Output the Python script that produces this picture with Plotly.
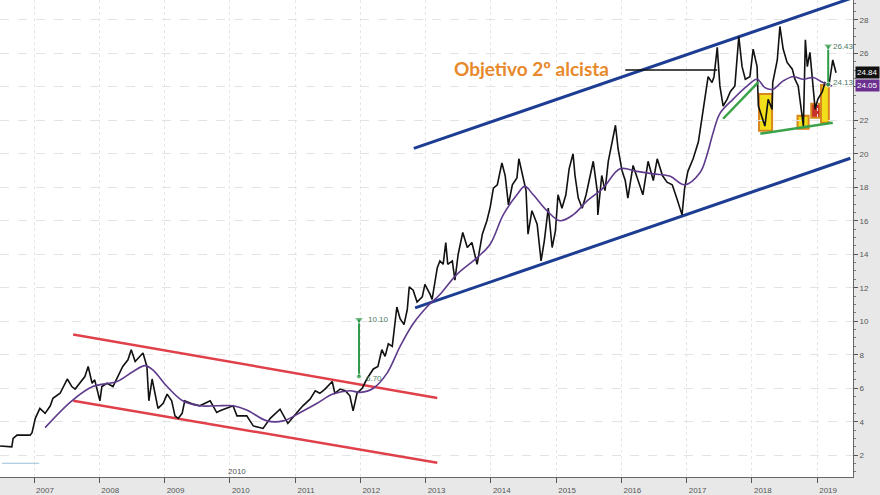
import plotly.graph_objects as go

# ---------------- data (decimal years, price) ----------------
price_t = [2006.48, 2006.66, 2006.68, 2006.74, 2006.94, 2006.97, 2007.02, 2007.09, 2007.17, 2007.25,
           2007.29, 2007.40, 2007.51, 2007.58, 2007.63, 2007.70, 2007.78, 2007.83, 2007.89, 2007.93,
           2008.01, 2008.04, 2008.12, 2008.21, 2008.29, 2008.36, 2008.44, 2008.49, 2008.55, 2008.62,
           2008.67, 2008.73, 2008.76, 2008.81, 2008.85, 2008.90, 2008.98, 2009.04, 2009.11, 2009.16,
           2009.21, 2009.27, 2009.31, 2009.44, 2009.54, 2009.70, 2009.80, 2009.85, 2010.05, 2010.11,
           2010.26, 2010.36, 2010.51, 2010.62, 2010.77, 2010.89, 2011.03, 2011.12, 2011.23, 2011.31,
           2011.38, 2011.46, 2011.57, 2011.61, 2011.69, 2011.77, 2011.84, 2011.89, 2011.95, 2012.03,
           2012.10, 2012.20, 2012.27, 2012.33, 2012.38, 2012.43, 2012.49, 2012.53, 2012.56, 2012.61,
           2012.67, 2012.72, 2012.75, 2012.81, 2012.87, 2012.95, 2012.99, 2013.07, 2013.10, 2013.18,
           2013.22, 2013.27, 2013.31, 2013.34, 2013.41, 2013.45, 2013.50, 2013.57, 2013.64, 2013.71,
           2013.79, 2013.87, 2013.94, 2013.99, 2014.04, 2014.10, 2014.17, 2014.22, 2014.27, 2014.33,
           2014.40, 2014.43, 2014.49, 2014.54, 2014.57, 2014.63, 2014.71, 2014.77, 2014.82, 2014.88,
           2014.94, 2014.99, 2015.03, 2015.09, 2015.15, 2015.20, 2015.26, 2015.29, 2015.34, 2015.40,
           2015.46, 2015.52, 2015.57, 2015.63, 2015.64, 2015.70, 2015.75, 2015.80, 2015.86, 2015.91,
           2015.95, 2016.01, 2016.06, 2016.10, 2016.18, 2016.26, 2016.33, 2016.41, 2016.49, 2016.55,
           2016.63, 2016.70, 2016.78, 2016.85, 2016.93, 2016.97, 2017.02, 2017.10, 2017.18, 2017.24,
           2017.28, 2017.33, 2017.39, 2017.42, 2017.47, 2017.51, 2017.56, 2017.62, 2017.67, 2017.74,
           2017.80, 2017.85, 2017.90, 2017.97, 2018.02, 2018.08, 2018.10, 2018.16, 2018.20, 2018.25,
           2018.31, 2018.32, 2018.39, 2018.43, 2018.48, 2018.54, 2018.62, 2018.66, 2018.71, 2018.77,
           2018.79, 2018.82, 2018.85, 2018.89, 2018.94, 2018.97, 2019.01, 2019.08, 2019.12, 2019.18,
           2019.24, 2019.29]
price_v = [2.55, 2.50, 3.00, 3.20, 3.20, 3.35, 4.20, 4.80, 4.50, 4.95,
           5.40, 5.70, 6.55, 6.10, 5.95, 6.30, 6.70, 7.30, 6.30, 6.50,
           5.25, 6.10, 6.30, 6.10, 6.70, 7.30, 7.70, 8.30, 7.60, 7.90,
           8.10, 7.30, 5.25, 6.55, 5.70, 4.80, 5.10, 5.65, 5.25, 4.35,
           4.20, 4.50, 5.25, 5.05, 4.95, 5.25, 4.55, 4.65, 4.95, 4.35,
           4.35, 3.75, 3.60, 4.20, 4.75, 3.90, 4.55, 4.95, 5.35, 5.85,
           5.70, 5.95, 6.40, 5.70, 5.95, 5.85, 5.55, 4.65, 5.70, 6.00,
           6.55, 7.15, 7.30, 8.30, 7.90, 8.65, 8.50, 9.85, 10.85, 10.15,
           9.80, 10.70, 12.05, 11.85, 11.15, 11.45, 12.20, 11.60, 11.30, 13.20,
           13.60, 13.40, 14.70, 13.40, 13.60, 12.45, 14.00, 15.30, 14.40, 14.70,
           13.40, 15.20, 16.00, 16.80, 17.95, 18.15, 19.45, 18.70, 16.95, 18.15,
           18.55, 19.70, 18.55, 17.80, 15.20, 16.60, 15.80, 13.60, 14.80, 16.75,
           14.40, 15.40, 17.55, 16.75, 17.55, 19.10, 20.00, 18.70, 17.35, 16.75,
           17.55, 18.70, 19.55, 17.80, 16.35, 18.70, 17.80, 19.55, 20.75, 21.70,
           20.30, 19.00, 18.40, 17.35, 19.30, 18.35, 17.55, 19.55, 18.40, 19.70,
           18.70, 18.30, 18.15, 17.35, 16.35, 17.95, 18.95, 19.70, 20.70, 22.25,
           23.25, 24.60, 24.25, 24.60, 26.35, 24.05, 22.85, 23.25, 23.70, 24.05,
           27.00, 25.20, 24.45, 24.60, 26.25, 25.20, 22.85, 22.10, 21.65, 23.25,
           22.65, 24.25, 25.60, 27.60, 26.25, 25.45, 25.05, 24.45, 24.05, 22.25,
           21.65, 26.80, 25.20, 26.05, 23.85, 22.65, 23.25, 23.70, 24.25, 24.05,
           25.60, 24.84]

ma_t = [2007.17, 2007.58, 2007.90, 2008.27, 2008.52, 2008.70, 2008.82, 2009.04, 2009.28, 2009.54,
        2009.80, 2010.05, 2010.26, 2010.57, 2010.82, 2011.08, 2011.34, 2011.58, 2011.84, 2012.00,
        2012.20, 2012.41, 2012.61, 2012.81, 2013.02, 2013.22, 2013.48, 2013.79, 2013.99, 2014.19,
        2014.40, 2014.52, 2014.65, 2014.86, 2015.06, 2015.26, 2015.48, 2015.72, 2015.98, 2016.24,
        2016.49, 2016.75, 2016.97, 2017.21, 2017.31, 2017.41, 2017.51, 2017.71, 2017.93, 2018.08,
        2018.20, 2018.32, 2018.48, 2018.63, 2018.79, 2018.94, 2019.09, 2019.23]
ma_v = [3.65, 5.25, 6.10, 6.40, 7.00, 7.35, 7.10, 6.10, 5.25, 4.95,
        4.95, 4.95, 4.70, 4.05, 4.05, 4.55, 5.10, 5.65, 5.85, 5.75,
        6.00, 6.90, 8.50, 9.85, 10.85, 11.60, 12.80, 13.80, 14.60, 16.35,
        17.55, 18.05, 17.55, 16.60, 16.00, 16.35, 17.20, 17.95, 19.10, 18.95,
        18.80, 18.65, 18.15, 18.90, 19.90, 21.30, 22.40, 23.25, 24.05, 24.45,
        23.95, 23.85, 24.35, 24.60, 24.45, 24.55, 24.25, 24.05]

# trend / channel lines (start, end)
red_upper_t, red_upper_v = [2007.60, 2013.18], [9.21, 5.42]
red_lower_t, red_lower_v = [2007.60, 2013.18], [5.25, 1.55]
blue_upper_t, blue_upper_v = [2012.82, 2019.55], [20.32, 29.32]
blue_lower_t, blue_lower_v = [2012.84, 2019.51], [10.80, 19.73]
green_rise_t, green_rise_v = [2017.56, 2018.10], [22.09, 24.28]
green_base_t, green_base_v = [2018.13, 2019.24], [21.20, 21.85]
target_t, target_v = [2016.06, 2017.47], [25.0, 25.0]

# measured moves
move1_t, move1_v = [2011.98, 2011.98], [6.70, 10.10]
move2_t, move2_v = [2019.17, 2019.17], [24.13, 26.43]

# highlighted boxes: (t0, t1, v0, v1, fill)
box_t0 = [2018.11, 2018.70, 2018.91, 2019.06]
box_t1 = [2018.31, 2018.87, 2019.05, 2019.18]
box_v0 = [21.38, 21.50, 22.15, 21.85]
box_v1 = [23.57, 22.27, 22.98, 24.10]
box_fill = ["#f3de1c", "#f3de1c", "#c8322a", "#f3de1c"]

years = list(range(2007, 2020))
year_labels = [str(y) for y in years]
last_price = 24.84
last_ma = 24.05

# ---------------- figure ----------------
fig = go.Figure()

for t0, t1, v0, v1, fc in zip(box_t0, box_t1, box_v0, box_v1, box_fill):
    fig.add_shape(type="rect", xref="x", yref="y", x0=t0, x1=t1, y0=v0, y1=v1,
                  fillcolor=fc, line=dict(color="#d9861c", width=2), layer="below")

def seg(t, v, color, width, dash=None):
    fig.add_trace(go.Scatter(x=t, y=v, mode="lines", hoverinfo="skip",
                             line=dict(color=color, width=width, dash=dash)))

seg([2006.51, 2007.08], [1.52, 1.52], "#9cc0d8", 1)
seg(red_upper_t, red_upper_v, "#e0404a", 2.5)
seg(red_lower_t, red_lower_v, "#e0404a", 2.5)
seg(blue_upper_t, blue_upper_v, "#1d3d93", 3)
seg(blue_lower_t, blue_lower_v, "#1d3d93", 3)

fig.add_trace(go.Scatter(x=price_t, y=price_v, mode="lines", hoverinfo="skip",
                         line=dict(color="#111111", width=1.6)))
fig.add_trace(go.Scatter(x=ma_t, y=ma_v, mode="lines", hoverinfo="skip",
                         line=dict(color="#5e3a8c", width=1.6, shape="spline")))

seg(green_rise_t, green_rise_v, "#3aa34a", 2.5)
seg(green_base_t, green_base_v, "#3aa34a", 2.5)
seg(target_t, target_v, "#111111", 1.6)

for mt, mv in [(move1_t, move1_v), (move2_t, move2_v)]:
    fig.add_trace(go.Scatter(x=mt, y=mv, mode="lines+markers", hoverinfo="skip",
                             line=dict(color="#2f9a4a", width=2),
                             marker=dict(symbol=["circle", "triangle-down"], size=[5, 8],
                                         color="#2f9a4a")))

small = dict(size=8, color="#4d7a63", family="Liberation Sans")
ann = [
    dict(x=2014.62, y=25.10, text="<b>Objetivo 2º alcista</b>", showarrow=False,
         font=dict(size=19, color="#e8892b", family="Lato")),
    dict(x=2012.08, y=10.10, text="10.10", showarrow=False, xanchor="left", font=small),
    dict(x=2012.06, y=6.60, text="6.70", showarrow=False, xanchor="left", font=small),
    dict(x=2019.21, y=26.43, text="26.43", showarrow=False, xanchor="left", font=small),
    dict(x=2019.21, y=24.25, text="24.13", showarrow=False, xanchor="left", font=small),
    dict(x=2010.11, y=1.0, text="2010", showarrow=False,
         font=dict(size=8, color="#555555", family="Liberation Sans")),
    dict(xref="paper", x=1.0, y=last_price, text=f"{last_price:.2f}", showarrow=False,
         xanchor="left", bgcolor="#111111", borderpad=1, xshift=2,
         font=dict(size=8, color="white", family="Liberation Sans")),
    dict(xref="paper", x=1.0, y=last_ma, text=f"{last_ma:.2f}", showarrow=False,
         xanchor="left", bgcolor="#6b2f8f", borderpad=1, xshift=2,
         font=dict(size=8, color="white", family="Liberation Sans")),
]

fig.update_layout(
    width=880, height=495,
    margin=dict(l=0, r=27, t=0, b=13),
    paper_bgcolor="#e8e8e8", plot_bgcolor="white",
    showlegend=False, annotations=ann,
    xaxis=dict(range=[2006.479, 2019.55], tickmode="array", tickvals=years, ticktext=year_labels,
               showgrid=True, gridcolor="#e6e6e6", griddash="dot", zeroline=False,
               ticks="outside", ticklen=5, tickcolor="#555555", ticklabelshift=11,
               ticklabelstandoff=0,
               tickfont=dict(size=8, color="#555555", family="Liberation Sans"),
               showline=True, linecolor="#666666", linewidth=1),
    yaxis=dict(range=[0.70, 29.18], side="right", tickmode="linear", tick0=0, dtick=2,
               showgrid=True, gridcolor="#e3e3e3", griddash="dash", zeroline=False,
               ticks="outside", ticklen=4, tickcolor="#555555",
               minor=dict(tickmode="linear", tick0=0, dtick=0.5, ticks="outside", ticklen=2,
                          tickcolor="#777777", showgrid=False),
               tickfont=dict(size=8, color="#555555", family="Liberation Sans"),
               showline=True, linecolor="#666666", linewidth=1),
)

fig.write_html("out.html", config={"displayModeBar": False},
               post_script="document.body.style.margin='0';document.body.style.overflow='hidden';")
